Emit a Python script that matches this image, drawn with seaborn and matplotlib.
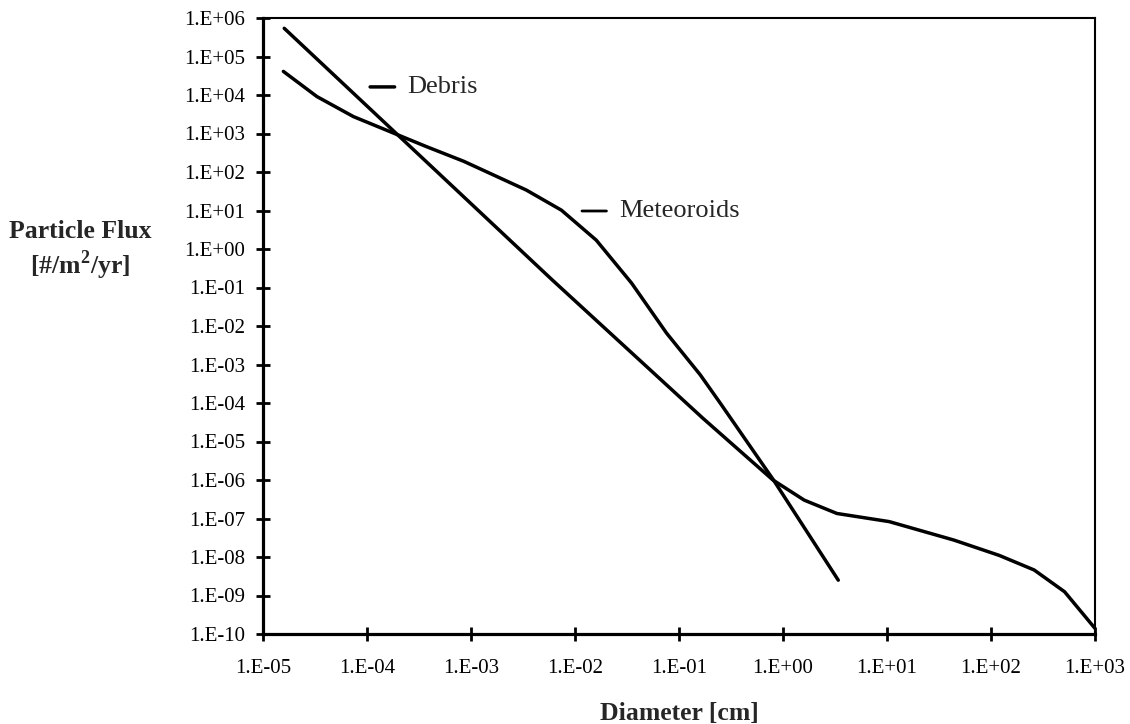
import numpy as np
import pandas as pd
import matplotlib
matplotlib.use("Agg")
import matplotlib.pyplot as plt
from matplotlib.ticker import FixedLocator, FuncFormatter, NullLocator
import seaborn as sns

# values (diameter in cm, flux in #/m2/yr)
debris_d = [1.6e-5, 6e-3, 0.17, 0.8, 1.6, 3.3, 10.5, 44, 120, 260, 510, 1000]
debris_flux = [5.4e5, 0.16, 4e-5, 1e-6, 3e-7, 1.35e-7, 8.3e-8, 2.75e-8,
               1.1e-8, 4.6e-9, 1.25e-9, 1.4e-10]

meteor_d = [1.57e-5, 3.3e-5, 7.4e-5, 3.7e-4, 8.5e-4, 3.4e-3, 7.4e-3, 1.6e-2,
            3.5e-2, 7.6e-2, 0.16, 0.25, 0.81, 3.4]
meteor_flux = [4.1e4, 9.1e3, 2.75e3, 4.6e2, 1.9e2, 34, 10.2, 1.7, 0.13,
               6.5e-3, 5.4e-4, 9.8e-5, 1e-6, 2.5e-9]

x_decades = list(range(-5, 4))
y_decades = list(range(-10, 7))

sns.set_style("white")
plt.rcParams['font.family'] = ['Liberation Serif', 'DejaVu Serif']
plt.rcParams['mathtext.fontset'] = 'custom'
plt.rcParams['mathtext.rm'] = 'Liberation Serif'
plt.rcParams['mathtext.bf'] = 'Liberation Serif:bold'

df_deb = pd.DataFrame({"Diameter": debris_d, "Flux": debris_flux})
df_met = pd.DataFrame({"Diameter": meteor_d, "Flux": meteor_flux})

fig = plt.figure(figsize=(11.3, 7.24), dpi=100)
ax = fig.add_axes([263 / 1130, 1 - 634 / 724, (1095 - 263) / 1130, (634 - 18) / 724])

sns.lineplot(data=df_deb, x="Diameter", y="Flux", ax=ax, color="black",
             lw=2.5, estimator=None, sort=False)
sns.lineplot(data=df_met, x="Diameter", y="Flux", ax=ax, color="black",
             lw=2.5, estimator=None, sort=False)

ax.set_xscale("log")
ax.set_yscale("log")
ax.set_xlim(10.0 ** x_decades[0], 10.0 ** x_decades[-1])
ax.set_ylim(10.0 ** y_decades[0], 10.0 ** y_decades[-1])

fmt = FuncFormatter(lambda v, p: "1.E{:+03d}".format(int(round(np.log10(v)))))
ax.xaxis.set_major_locator(FixedLocator([10.0 ** e for e in x_decades]))
ax.yaxis.set_major_locator(FixedLocator([10.0 ** e for e in y_decades]))
ax.xaxis.set_minor_locator(NullLocator())
ax.yaxis.set_minor_locator(NullLocator())
ax.xaxis.set_major_formatter(fmt)
ax.yaxis.set_major_formatter(fmt)
ax.tick_params(axis="both", which="major", bottom=True, left=True,
               top=False, right=False, direction="inout", length=10, width=2,
               color="black", labelsize=15, labelcolor="black")
ax.tick_params(axis="x", pad=13)
ax.tick_params(axis="y", pad=8)

for side in ["left", "bottom"]:
    ax.spines[side].set_linewidth(2.3)
    ax.spines[side].set_color("black")
for side in ["top", "right"]:
    ax.spines[side].set_linewidth(1.5)
    ax.spines[side].set_color("black")

ax.set_xlabel("Diameter [cm]", fontsize=18.5, fontweight="bold", labelpad=17)
ax.set_ylabel("")
fig.text(80 / 1130, 1 - 251 / 724, "Particle Flux\n[#/m$^{\\mathbf{2}}$/yr]",
         ha="center", va="center", fontsize=18.5, fontweight="bold",
         linespacing=1.2)

ax.annotate("Debris", xy=(10 ** -3.97, 10 ** 4.21), xytext=(27, 0),
            textcoords="offset points", ha="left", va="center", fontsize=19,
            arrowprops=dict(arrowstyle="-", lw=2.5, color="black",
                            shrinkA=7, shrinkB=0))
ax.annotate("Meteoroids", xy=(10 ** -1.933, 10 ** 0.987), xytext=(27, 0),
            textcoords="offset points", ha="left", va="center", fontsize=19,
            arrowprops=dict(arrowstyle="-", lw=2.0, color="black",
                            shrinkA=7, shrinkB=0))

plt.savefig("out.png", dpi=100)
plt.close()
